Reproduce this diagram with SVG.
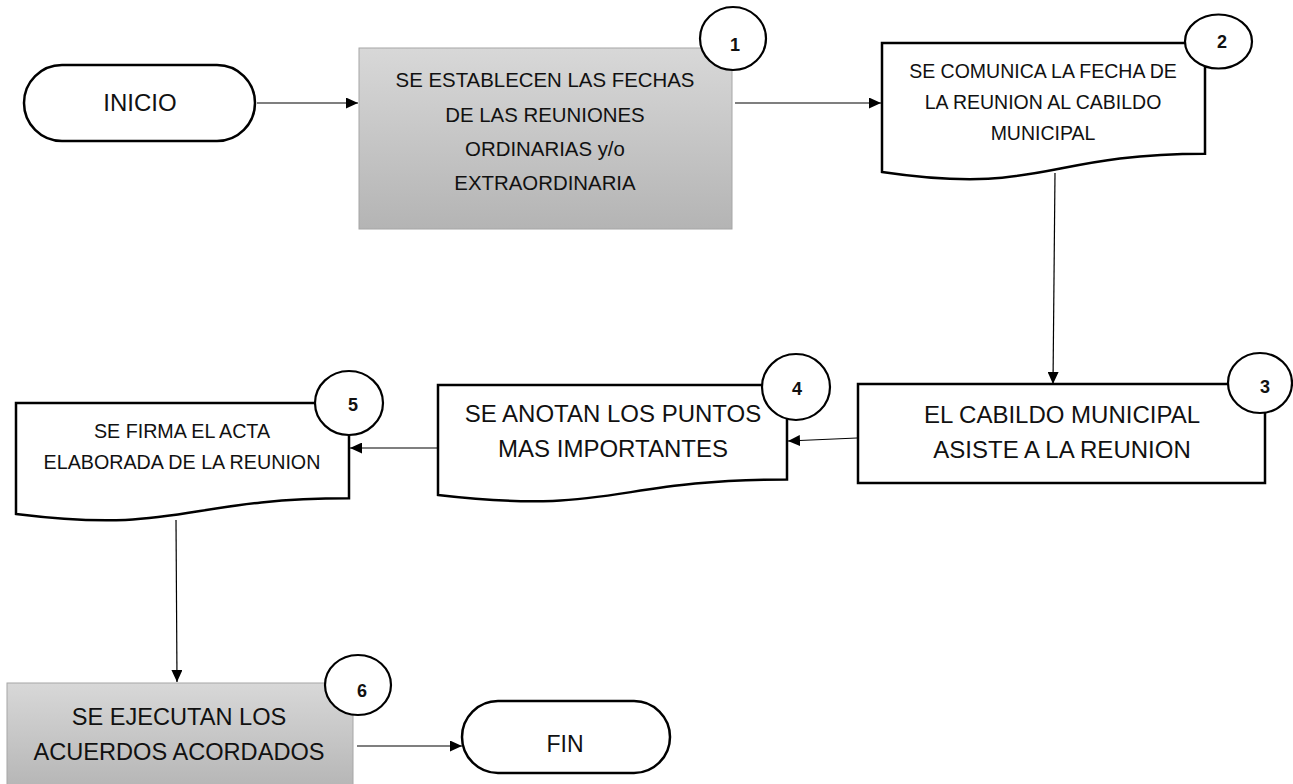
<svg xmlns="http://www.w3.org/2000/svg" width="1293" height="784" viewBox="0 0 1293 784">
<style>
.bg{fill:#ffffff}
.t{font-family:"Liberation Sans",Arial,sans-serif;fill:#111;text-anchor:middle}
.n{font-family:"Liberation Sans",Arial,sans-serif;font-weight:bold;fill:#111;text-anchor:middle;font-size:18px}
.sh{fill:#fff;stroke:#000;stroke-width:2.5}
.gr{fill:url(#g);stroke:#a6a6a6;stroke-width:1}
.num{fill:#fff;stroke:#000;stroke-width:2.2}
.c{fill:none;stroke:#000;stroke-width:1.2}
</style>
<defs>
<linearGradient id="g" x1="0" y1="0" x2="0" y2="1">
<stop offset="0" stop-color="#d8d8d8"/>
<stop offset="1" stop-color="#b4b4b4"/>
</linearGradient>
<marker id="a" markerUnits="userSpaceOnUse" markerWidth="12" markerHeight="11" refX="12" refY="5.5" orient="auto">
<path d="M0,0 L12,5.5 L0,11 z" fill="#000"/>
</marker>
</defs>
<rect class="bg" x="0" y="0" width="1293" height="784"/>
<g id="connectors">
<line class="c" x1="257" y1="103" x2="358" y2="103" marker-end="url(#a)"/>
<line class="c" x1="735" y1="103" x2="881" y2="103" marker-end="url(#a)"/>
<line class="c" x1="1055" y1="173" x2="1053" y2="384" marker-end="url(#a)"/>
<line class="c" x1="857" y1="438" x2="788" y2="441" marker-end="url(#a)"/>
<line class="c" x1="437" y1="448" x2="350" y2="448" marker-end="url(#a)"/>
<line class="c" x1="176" y1="520" x2="177" y2="682" marker-end="url(#a)"/>
<line class="c" x1="357" y1="746" x2="462" y2="746" marker-end="url(#a)"/>
</g>
<g id="inicio">
<rect class="sh" x="24" y="65" width="231" height="76" rx="38" ry="38"/>
<text class="t" x="140" y="111" font-size="24">INICIO</text>
</g>
<g id="paso1">
<rect class="gr" x="359" y="48" width="373" height="181"/>
<text class="t" x="545" y="87" font-size="20.4">SE ESTABLECEN LAS FECHAS</text>
<text class="t" x="545" y="122" font-size="20.4">DE LAS REUNIONES</text>
<text class="t" x="545" y="156" font-size="20.4">ORDINARIAS y/o</text>
<text class="t" x="545" y="190" font-size="20.4">EXTRAORDINARIA</text>
<ellipse class="num" cx="733" cy="38.5" rx="33" ry="31.5"/>
<text class="n" x="735" y="51">1</text>
</g>
<g id="paso2">
<path class="sh" d="M882,43 H1205 V153.7 C1043.5,153.7 1043.5,195.8 882,171.9 Z"/>
<text class="t" x="1043" y="78" font-size="19.5">SE COMUNICA LA FECHA DE</text>
<text class="t" x="1043" y="109" font-size="19.5">LA REUNION AL CABILDO</text>
<text class="t" x="1043" y="140" font-size="19.5">MUNICIPAL</text>
<ellipse class="num" cx="1218.5" cy="41.5" rx="33.5" ry="27"/>
<text class="n" x="1222" y="48">2</text>
</g>
<g id="paso3">
<rect class="sh" x="858" y="384" width="407" height="99"/>
<text class="t" x="1062" y="423" font-size="24">EL CABILDO MUNICIPAL</text>
<text class="t" x="1062" y="458" font-size="24">ASISTE A LA REUNION</text>
<ellipse class="num" cx="1260" cy="383" rx="32" ry="30"/>
<text class="n" x="1265" y="393">3</text>
</g>
<g id="paso4">
<path class="sh" d="M438,385 H787 V479.5 C612.5,479.5 612.5,515.5 438,495 Z"/>
<text class="t" x="613" y="422" font-size="24">SE ANOTAN LOS PUNTOS</text>
<text class="t" x="613" y="457" font-size="24">MAS IMPORTANTES</text>
<ellipse class="num" cx="796" cy="387" rx="34" ry="33"/>
<text class="n" x="797" y="395">4</text>
</g>
<g id="paso5">
<path class="sh" d="M16,403 H349 V498.3 C182.5,498.3 182.5,534.6 16,514 Z"/>
<text class="t" x="182" y="438" font-size="19.7">SE FIRMA EL ACTA</text>
<text class="t" x="182" y="469" font-size="19.7">ELABORADA DE LA REUNION</text>
<ellipse class="num" cx="349" cy="403" rx="34" ry="32"/>
<text class="n" x="353" y="411">5</text>
</g>
<g id="paso6">
<rect class="gr" x="7" y="683" width="346" height="110"/>
<text class="t" x="179" y="725" font-size="23.6">SE EJECUTAN LOS</text>
<text class="t" x="179" y="760" font-size="23.6">ACUERDOS ACORDADOS</text>
<ellipse class="num" cx="358" cy="685" rx="33" ry="30"/>
<text class="n" x="362" y="697">6</text>
</g>
<g id="fin">
<rect class="sh" x="462" y="701" width="208" height="72" rx="36" ry="36"/>
<text class="t" x="565" y="752" font-size="23">FIN</text>
</g>
</svg>
